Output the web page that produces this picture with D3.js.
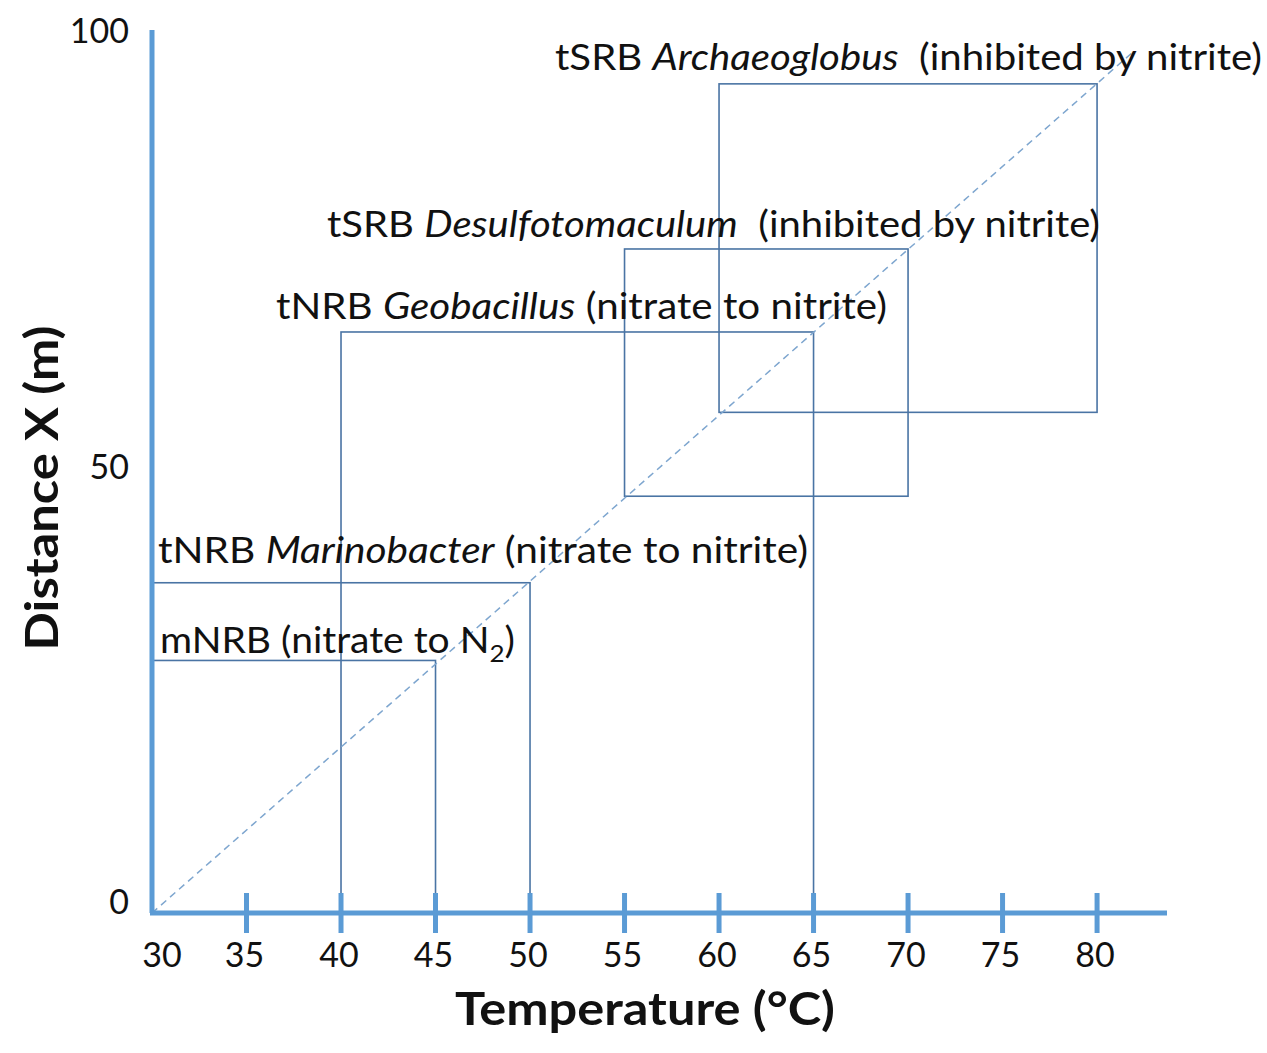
<!DOCTYPE html>
<html>
<head>
<meta charset="utf-8">
<script src="https://cdn.jsdelivr.net/npm/d3@7"></script>
<style>
  body { margin: 0; background: #fff; }
  svg { display: block; font-family: Lato, "Open Sans", sans-serif; }
</style>
</head>
<body>
<svg id="chart" width="1267" height="1053"></svg>
<script>
// temperature ticks along the bottom
const xTicks = [30, 35, 40, 45, 50, 55, 60, 65, 70, 75, 80]
const yTicks = [0, 50, 100]

// organism windows: temperature range and distance range
const boxTmin = [30, 30, 40, 55, 60]
const boxTmax = [45, 50, 65, 70, 80]
const boxDmin = [0, 0, 0, 47.2, 56.7]
const boxDmax = [28.6, 37.4, 65.8, 75.2, 93.9]

// dashed temperature/distance line
const diagT = [30, 82]
const diagD = [0, 97.7]

// labels: prefix, italic genus, suffix, anchor (temperature, distance), width
const labPrefix = ["tSRB ", "tSRB ", "tNRB ", "tNRB ", "mNRB (nitrate to N"]
const labGenus = ["Archaeoglobus", "Desulfotomaculum", "Geobacillus", "Marinobacter", ""]
const labSuffix = ["  (inhibited by nitrite)", "  (inhibited by nitrite)", " (nitrate to nitrite)", " (nitrate to nitrite)", ""]
const labT = [51.32, 39.26, 36.56, 30.32, 30.42]
const labD = [95.5, 76.6, 67.3, 39.6, 29.4]
const labW = [707, 773, 611, 650, 355]

const svg = d3.select("#chart")

const x = d3.scaleLinear().domain([30, 83.7]).range([152, 1167])
const y = d3.scaleLinear().domain([0, 100]).range([913, 30])
const yLab = d3.scaleLinear().domain([0, 100]).range([902, 31])

const axisColor = "#5b9bd5"
const boxColor = "#4a74a4"

// boxes
svg.append("g").selectAll("rect")
  .data(boxTmin.map((t, i) => ({t0: t, t1: boxTmax[i], d0: boxDmin[i], d1: boxDmax[i]})))
  .join("rect")
  .attr("x", d => x(d.t0))
  .attr("y", d => y(d.d1))
  .attr("width", d => x(d.t1) - x(d.t0))
  .attr("height", d => y(d.d0) - y(d.d1))
  .attr("fill", "none")
  .attr("stroke", boxColor)
  .attr("stroke-width", 1.6)

// diagonal
svg.append("line")
  .attr("x1", x(diagT[0])).attr("y1", y(diagD[0]))
  .attr("x2", x(diagT[1])).attr("y2", y(diagD[1]))
  .attr("stroke", "#7ea6cf")
  .attr("stroke-width", 1.5)
  .attr("stroke-dasharray", "7,5")

// axes
svg.append("line")
  .attr("x1", x(30)).attr("x2", x(30))
  .attr("y1", y(0)).attr("y2", y(100))
  .attr("stroke", axisColor).attr("stroke-width", 5)
svg.append("line")
  .attr("x1", x(30) - 2).attr("x2", x.range()[1])
  .attr("y1", y(0)).attr("y2", y(0))
  .attr("stroke", axisColor).attr("stroke-width", 5)

svg.append("g").selectAll("line")
  .data(xTicks.slice(1))
  .join("line")
  .attr("x1", d => x(d)).attr("x2", d => x(d))
  .attr("y1", y(0) - 20).attr("y2", y(0) + 20)
  .attr("stroke", axisColor).attr("stroke-width", 5)

svg.append("g").selectAll("text")
  .data(xTicks)
  .join("text")
  .attr("x", (d, i) => x(d) + (i == 0 ? 10 : -2))
  .attr("y", 967)
  .attr("text-anchor", "middle")
  .attr("font-size", 34)
  .attr("fill", "#111")
  .text(d => d)

svg.append("g").selectAll("text")
  .data(yTicks)
  .join("text")
  .attr("x", 129)
  .attr("y", d => yLab(d))
  .attr("dy", "0.36em")
  .attr("text-anchor", "end")
  .attr("font-size", 34)
  .attr("fill", "#111")
  .text(d => d)

// titles
svg.append("text")
  .attr("x", 645).attr("y", 1025)
  .attr("text-anchor", "middle")
  .attr("font-size", 46).attr("font-weight", "bold")
  .attr("textLength", 380).attr("lengthAdjust", "spacingAndGlyphs")
  .attr("fill", "#111")
  .text("Temperature (°C)")

svg.append("text")
  .attr("transform", "translate(58,488) rotate(-90)")
  .attr("text-anchor", "middle")
  .attr("font-size", 46).attr("font-weight", "bold")
  .attr("textLength", 325).attr("lengthAdjust", "spacingAndGlyphs")
  .attr("fill", "#111")
  .text("Distance X (m)")

// labels
const labels = svg.append("g").selectAll("text")
  .data(labPrefix.map((p, i) => ({p: p, g: labGenus[i], s: labSuffix[i], t: labT[i], d: labD[i], w: labW[i]})))
  .join("text")
  .attr("x", d => x(d.t))
  .attr("y", d => y(d.d))
  .attr("font-size", 36)
  .attr("fill", "#111")
  .style("white-space", "pre")

labels.append("tspan").text(d => d.p)
labels.append("tspan").attr("font-style", "italic").text(d => d.g)
labels.append("tspan").text(d => d.s)

// N2 subscript on the mNRB label
const mnrb = labels.filter((d, i) => i == 4)
mnrb.append("tspan").attr("font-size", 24).attr("dy", 9).text("2")
mnrb.append("tspan").attr("dy", -9).text(")")

labels.filter(d => d.w > 0)
  .attr("textLength", d => d.w)
  .attr("lengthAdjust", "spacingAndGlyphs")
</script>
</body>
</html>
